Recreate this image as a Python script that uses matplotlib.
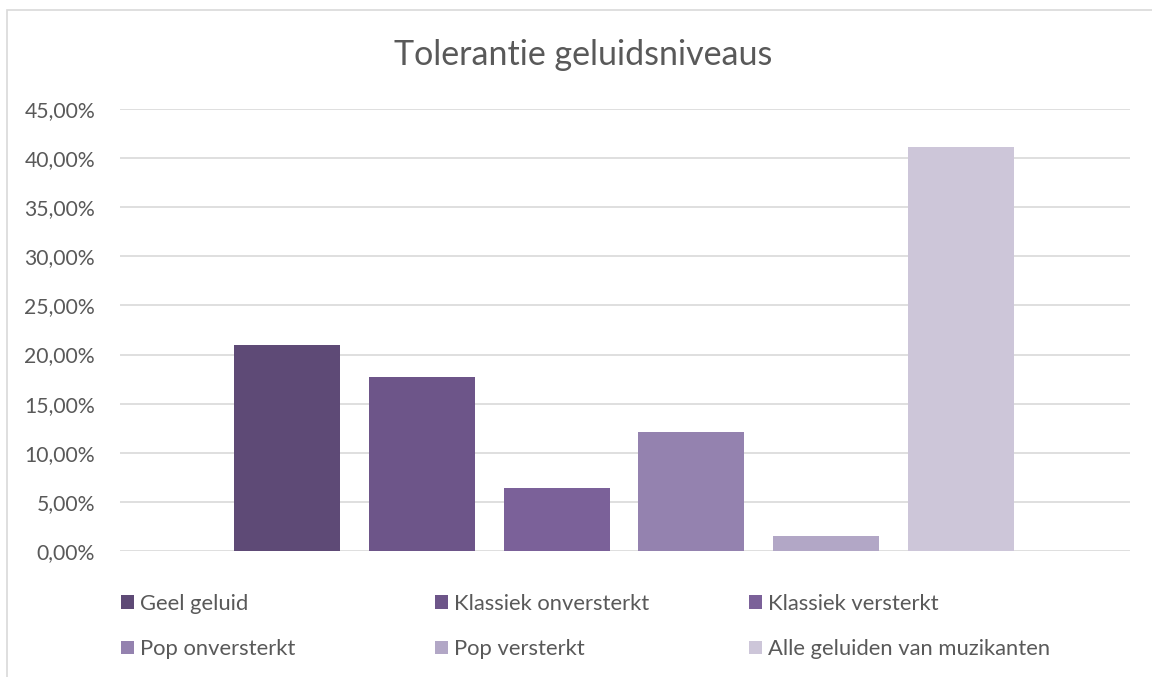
import matplotlib.pyplot as plt
import matplotlib.patches as mpatches
from matplotlib.ticker import FuncFormatter

## data
categories = ["Geel geluid", "Klassiek onversterkt", "Klassiek versterkt",
              "Pop onversterkt", "Pop versterkt", "Alle geluiden van muzikanten"]
values = [21.0, 17.75, 6.45, 12.15, 1.56, 41.17]  # percent
colors = ["#5E4A76", "#6D5589", "#7B6199", "#9482AF", "#B2A7C6", "#CDC6D9"]
yticks = [0, 5, 10, 15, 20, 25, 30, 35, 40, 45]

plt.rcParams['font.family'] = ['Lato', 'DejaVu Sans']
txt = "#595959"

fig = plt.figure(figsize=(11.52, 6.77), dpi=100)
W, H = 1152, 677

# chart border (Excel style)
fig.patches.append(mpatches.Rectangle((7 / W, -0.01), 1.2, 1 - 10 / H + 0.01,
                                      transform=fig.transFigure, fill=False,
                                      edgecolor="#D9D9D9", linewidth=1.2))

ax = fig.add_axes([120 / W, 1 - 551 / H, (1130 - 120) / W, (551 - 109) / H])

x = list(range(len(values)))
bars = ax.bar(x, values, width=0.786, color=colors, zorder=3)

ax.set_xlim(-1.239, 6.254)
ax.set_ylim(0, 45)
ax.set_yticks(yticks)
ax.yaxis.set_major_formatter(FuncFormatter(lambda v, p: ("%.2f%%" % v).replace(".", ",")))
ax.tick_params(axis='y', length=0, pad=18, labelsize=15.2, labelcolor=txt)
ax.set_xticks([])
ax.grid(axis='y', color="#D9D9D9", linewidth=1.2, zorder=0)
for s in ax.spines.values():
    s.set_visible(False)

fig.text(583 / W, 1 - 55 / H, "Tolerantie geluidsniveaus", ha='center', va='center',
         fontsize=24.5, color=txt)

# legend: three uniform columns, row-major order like Excel
col_x = [121, 435, 749]
for c in range(3):
    idx = [c, c + 3]
    leg = fig.legend([bars[i] for i in idx], [categories[i] for i in idx],
                     loc='upper left', bbox_to_anchor=(col_x[c] / W, 1 - 594 / H),
                     frameon=False, fontsize=15.8, labelcolor=txt,
                     handlelength=0.6, handleheight=0.6, handletextpad=0.25,
                     labelspacing=1.15, borderpad=0, borderaxespad=0)

fig.savefig("out.png", dpi=100)
